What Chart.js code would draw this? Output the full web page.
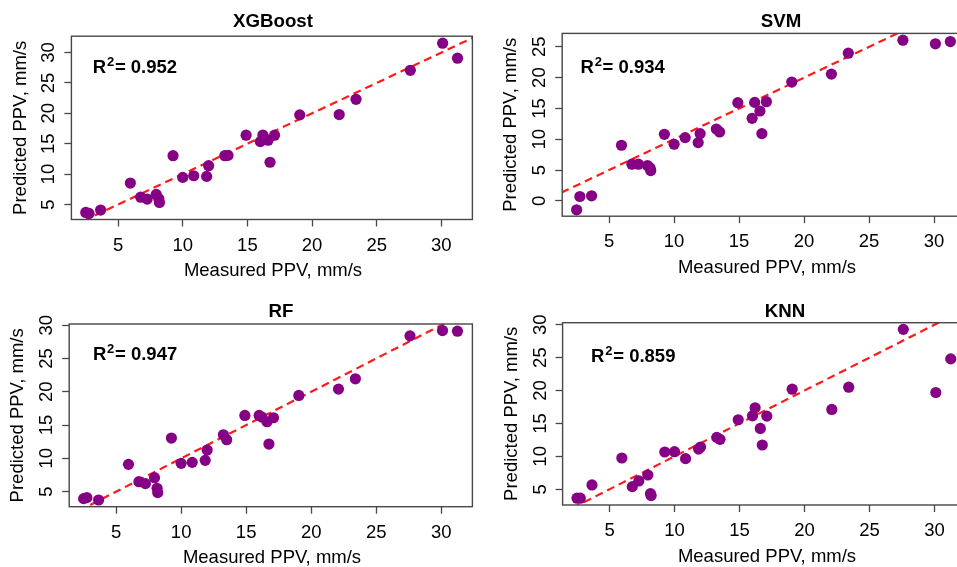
<!DOCTYPE html>
<html>
<head>
<meta charset="utf-8">
<script src="https://cdn.jsdelivr.net/npm/chart.js@4.4.1/dist/chart.umd.min.js"></script>
<style>
html, body { margin: 0; padding: 0; background: #fff; }
#wrap { position: relative; width: 957px; height: 567px; overflow: hidden; background: #fff; }
#wrap canvas { position: absolute; }
</style>
</head>
<body>
<div id="wrap">
  <canvas id="c-xgb" width="478" height="285" style="left:0px;top:0px"></canvas>
  <canvas id="c-svm" width="500" height="285" style="left:478px;top:0px"></canvas>
  <canvas id="c-rf" width="478" height="282" style="left:0px;top:285px"></canvas>
  <canvas id="c-knn" width="500" height="282" style="left:478px;top:285px"></canvas>
</div>
<script>
// measured PPV (same for every model), mm/s
let measured = [2.5, 2.75, 3.65, 5.95, 6.75, 7.25, 7.95, 8.15, 8.2, 9.25, 10.0, 10.85, 11.85, 12.0,
                13.25, 13.5, 14.9, 16.0, 16.2, 16.6, 16.75, 17.1, 19.05, 22.1, 23.4, 27.6, 30.1, 31.25]

// predicted PPV per model
let xgbPred = [3.69, 3.53, 4.08, 8.53, 6.2, 5.89, 6.66, 5.95, 5.34, 13.03, 9.46, 9.73, 9.62, 11.38,
               13.03, 13.08, 16.4, 15.35, 16.43, 15.58, 11.95, 16.4, 19.75, 19.8, 22.31, 27.08, 31.54, 29.07]
let svmPred = [-1.46, 0.7, 0.81, 9.02, 5.94, 5.94, 5.72, 5.35, 4.91, 10.8, 9.18, 10.26, 9.45, 10.91,
               11.66, 11.18, 15.93, 13.39, 15.98, 14.58, 10.91, 16.09, 19.28, 20.57, 23.97, 26.08, 25.49, 25.86]
let rfPred = [3.95, 4.1, 3.75, 9.1, 6.5, 6.2, 7.1, 5.5, 4.85, 13.05, 9.25, 9.4, 9.7, 11.25,
              13.55, 12.8, 16.45, 16.45, 16.2, 15.5, 12.15, 16.1, 19.45, 20.4, 21.95, 28.4, 29.2, 29.1]
let knnPred = [3.64, 3.64, 5.66, 9.75, 5.4, 6.26, 7.17, 4.34, 4.04, 10.66, 10.71, 9.65, 11.11, 11.41,
               12.88, 12.58, 15.56, 16.16, 17.37, 14.24, 11.72, 16.11, 20.2, 17.12, 20.5, 29.29, 19.7, 24.8]

let modelNames = ['XGBoost', 'SVM', 'RF', 'KNN']
let r2Values = ['0.952', '0.934', '0.947', '0.859']

// axis limits and tick labels
let xLimits = [1.39, 32.4]
let xTicks = [5, 10, 15, 20, 25, 30]
let yLimXgb = [2.53, 32.69]
let yLimSvm = [-2.5, 27.18]
let yLimRf = [2.74, 30.18]
let yLimKnn = [2.61, 30.3]
let yTicksXgb = [5, 10, 15, 20, 25, 30]
let yTicksSvm = [0, 5, 10, 15, 20, 25]
let yTicksRf = [5, 10, 15, 20, 25, 30]
let yTicksKnn = [5, 10, 15, 20, 25, 30]

// 1:1 reference line
let refLine = [-5, 40]

let xTitle = 'Measured PPV, mm/s'
let yTitle = 'Predicted PPV, mm/s'

let fontFamily = '"Liberation Sans", Arial, Helvetica, sans-serif'
let pointColor = '#860086'
let axisColor = '#474747'

let panels = [
    {id: 'c-xgb', name: modelNames[0], r2: r2Values[0], pred: xgbPred, yLim: yLimXgb, yTicks: yTicksXgb,
     box: {left: 71.4, top: 36.2, right: 474.5, bottom: 219.5}, titleX: 273, titleY: 26.7, xTitleX: 273, r2dx: 21.4, r2dy: 37},
    {id: 'c-svm', name: modelNames[1], r2: r2Values[1], pred: svmPred, yLim: yLimSvm, yTicks: yTicksSvm,
     box: {left: 84.2, top: 33.4, right: 487.3, bottom: 216.2}, titleX: 303, titleY: 26.5, xTitleX: 289, r2dx: 18.3, r2dy: 40},
    {id: 'c-rf', name: modelNames[2], r2: r2Values[2], pred: rfPred, yLim: yLimRf, yTicks: yTicksRf,
     box: {left: 69.2, top: 39, right: 472.5, bottom: 221.7}, titleX: 281, titleY: 31.6, xTitleX: 272, r2dx: 23.7, r2dy: 36},
    {id: 'c-knn', name: modelNames[3], r2: r2Values[3], pred: knnPred, yLim: yLimKnn, yTicks: yTicksKnn,
     box: {left: 84.6, top: 37.7, right: 487.7, bottom: 220}, titleX: 307, titleY: 31.6, xTitleX: 289, r2dx: 28.5, r2dy: 39}
]

function decorate(p) {
    return {
        id: 'decorate',
        afterDraw(chart) {
            let ctx = chart.ctx
            let a = chart.chartArea
            let xs = chart.scales.x
            let ys = chart.scales.y
            ctx.save()
            ctx.strokeStyle = axisColor
            ctx.lineWidth = 1.4
            ctx.strokeRect(a.left, a.top, a.right - a.left, a.bottom - a.top)

            ctx.fillStyle = '#000'
            ctx.textAlign = 'center'
            ctx.textBaseline = 'alphabetic'
            ctx.font = '18.5px ' + fontFamily
            xTicks.forEach(v => ctx.fillText(String(v), xs.getPixelForValue(v), a.bottom + 31))
            p.yTicks.forEach(v => {
                ctx.save()
                ctx.translate(a.left - 17, ys.getPixelForValue(v))
                ctx.rotate(-Math.PI / 2)
                ctx.fillText(String(v), 0, 0)
                ctx.restore()
            })
            ctx.fillText(xTitle, p.xTitleX, a.bottom + 56.5)
            ctx.save()
            ctx.translate(a.left - 45.8, (a.top + a.bottom) / 2)
            ctx.rotate(-Math.PI / 2)
            ctx.fillText(yTitle, 0, 0)
            ctx.restore()

            ctx.font = 'bold 18.7px ' + fontFamily
            ctx.fillText(p.name, p.titleX, p.titleY)

            // R^2 label
            ctx.textAlign = 'left'
            let rx = a.left + p.r2dx
            let ry = a.top + p.r2dy
            ctx.font = 'bold 18.5px ' + fontFamily
            ctx.fillText('R', rx, ry)
            let w = ctx.measureText('R').width
            ctx.font = 'bold 13px ' + fontFamily
            ctx.fillText('2', rx + w + 0.8, ry - 7)
            let w2 = ctx.measureText('2').width
            ctx.font = 'bold 18.5px ' + fontFamily
            ctx.fillText('= ' + p.r2, rx + w + w2 + 1.5, ry)
            ctx.restore()
        }
    }
}

panels.forEach(function(p) {
    let canvas = document.getElementById(p.id)
    let box = p.box
    let points = measured.map((m, i) => ({x: m, y: p.pred[i]}))
    let line = refLine.map(v => ({x: v, y: v}))
    let tickGrid = {drawOnChartArea: false, drawTicks: true, tickLength: 7, tickColor: axisColor, tickWidth: 1.3}

    new Chart(canvas, {
        type: 'scatter',
        data: {
            datasets: [
                {type: 'scatter', data: points, backgroundColor: pointColor, borderColor: pointColor,
                 borderWidth: 0, pointRadius: 5.6, pointHoverRadius: 5.6},
                {type: 'line', data: line, borderColor: '#ff1a1a', borderWidth: 2.2, borderDash: [8, 5],
                 pointRadius: 0, fill: false, tension: 0, clip: 0}
            ]
        },
        options: {
            responsive: false,
            animation: false,
            events: [],
            layout: {padding: {left: 0, top: box.top, right: canvas.width - box.right, bottom: 0}},
            plugins: {legend: {display: false}, tooltip: {enabled: false}, title: {display: false}},
            scales: {
                x: {
                    type: 'linear', position: 'bottom', min: xLimits[0], max: xLimits[1],
                    afterBuildTicks: s => { s.ticks = xTicks.map(v => ({value: v})) },
                    afterFit: s => { s.height = canvas.height - box.bottom },
                    ticks: {display: false},
                    grid: tickGrid,
                    border: {display: false}
                },
                y: {
                    type: 'linear', position: 'left', min: p.yLim[0], max: p.yLim[1],
                    afterBuildTicks: s => { s.ticks = p.yTicks.map(v => ({value: v})) },
                    afterFit: s => { s.width = box.left },
                    ticks: {display: false},
                    grid: tickGrid,
                    border: {display: false}
                }
            }
        },
        plugins: [decorate(p)]
    })
})
</script>
</body>
</html>
